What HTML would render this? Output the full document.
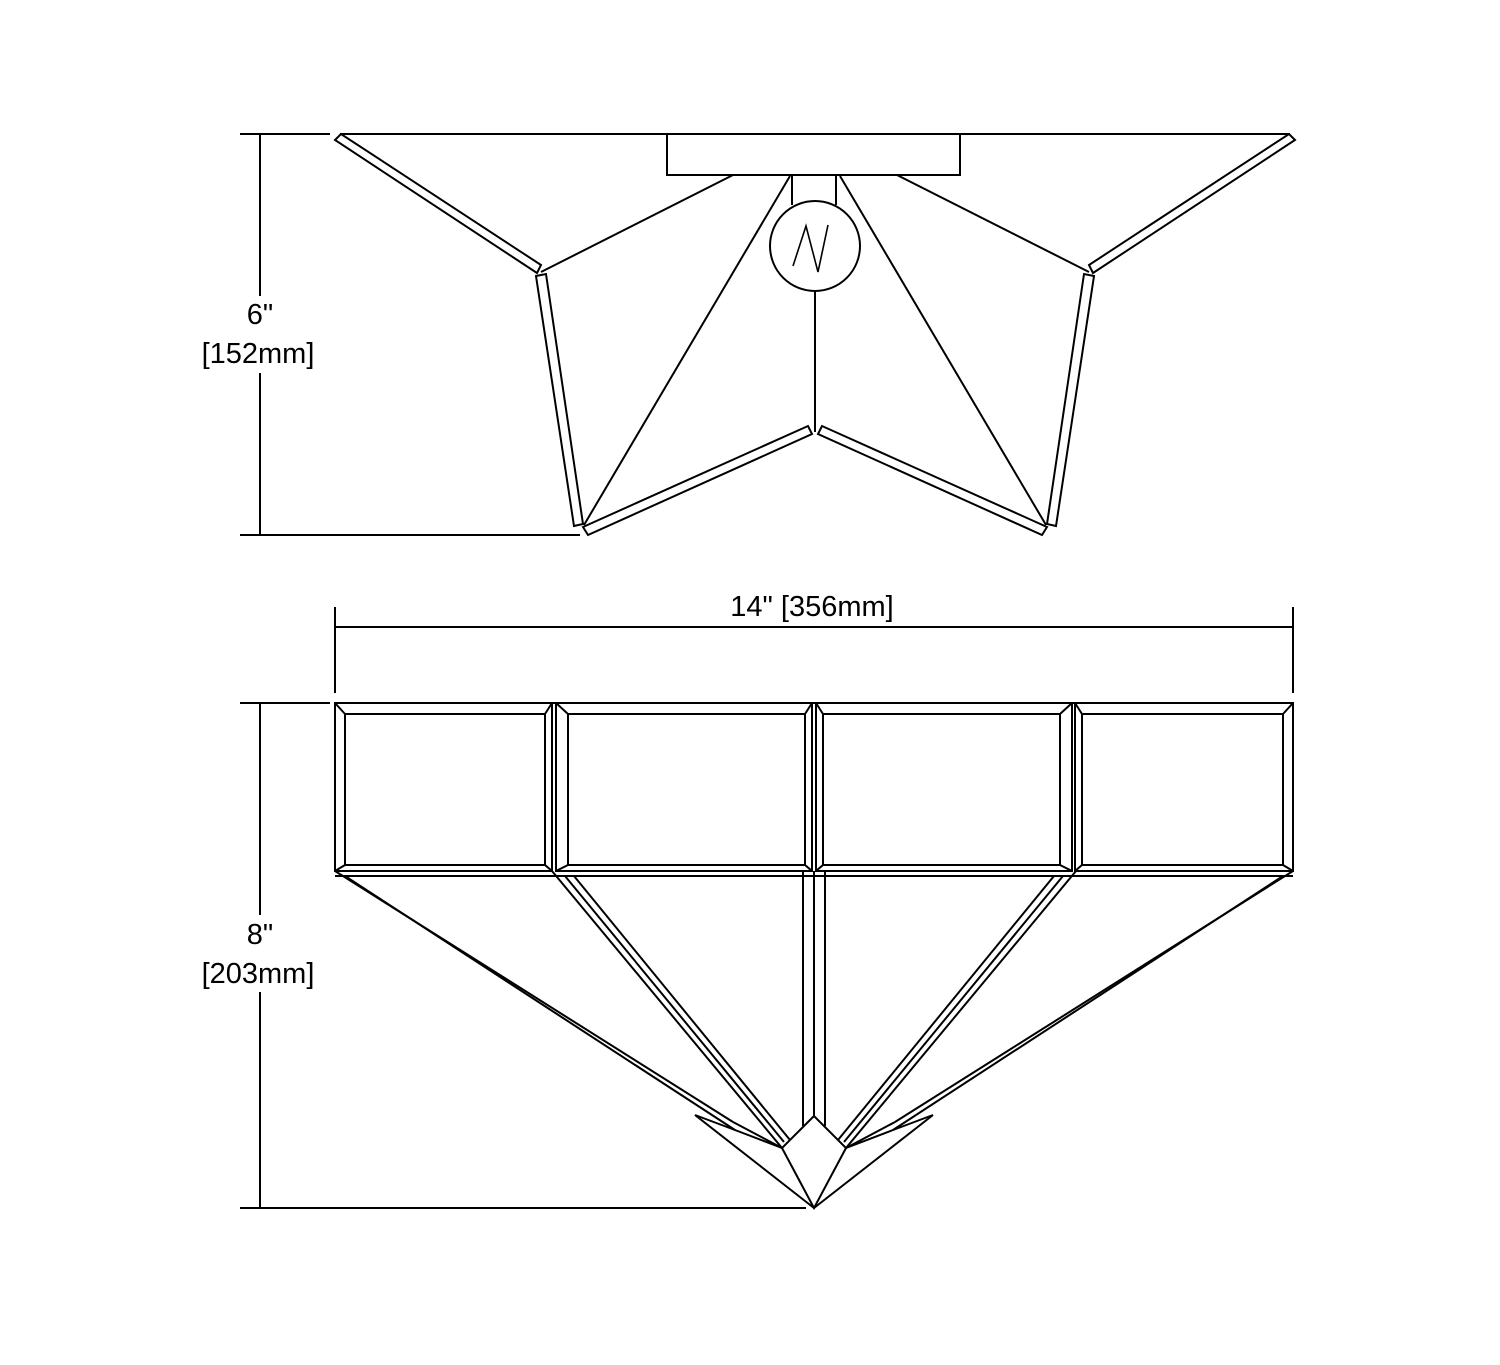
<!DOCTYPE html>
<html><head><style>
html,body{margin:0;padding:0;background:#fff;}
svg{display:block;}
text{font-family:"Liberation Sans",sans-serif;font-size:29px;fill:#000;}
</style></head><body>
<svg width="1500" height="1365" viewBox="0 0 1500 1365" xmlns="http://www.w3.org/2000/svg">
<g fill="none" stroke="#000" stroke-width="2" stroke-linejoin="miter">
<!-- TOP VIEW -->
<line x1="240" y1="134" x2="330" y2="134"/>
<line x1="240" y1="535" x2="580" y2="535"/>
<line x1="260" y1="134" x2="260" y2="296"/>
<line x1="260" y1="373" x2="260" y2="535"/>
<line x1="340" y1="134" x2="1290" y2="134"/>
<rect x="667" y="134" width="293" height="41" fill="#fff"/>
<polygon points="335,140 341,134 541,265 537,273"/>
<polygon points="536,276 546,274 583,524 574,526"/>
<polygon points="583,527 808,426 812,434 588,535"/>
<line x1="541" y1="272" x2="733" y2="175"/>
<line x1="584" y1="525" x2="790" y2="176"/>
<polygon points="1295,140 1289,134 1089,265 1093,273"/>
<polygon points="1094,276 1084,274 1047,524 1056,526"/>
<polygon points="1047,527 822,426 818,434 1042,535"/>
<line x1="1089" y1="272" x2="897" y2="175"/>
<line x1="1046" y1="525" x2="840" y2="176"/>
<line x1="792" y1="175" x2="792" y2="205"/>
<line x1="836" y1="175" x2="836" y2="205"/>
<circle cx="815" cy="246" r="45" fill="#fff"/>
<polyline points="793,266 806,226 818,272 828,225" stroke-width="1.6"/>
<line x1="815" y1="291" x2="815" y2="432"/>

<!-- BOTTOM VIEW -->
<line x1="335" y1="607" x2="335" y2="693"/>
<line x1="1293" y1="607" x2="1293" y2="693"/>
<line x1="335" y1="627" x2="1293" y2="627"/>
<line x1="240" y1="703" x2="330" y2="703"/>
<line x1="240" y1="1208" x2="806" y2="1208"/>
<line x1="260" y1="703" x2="260" y2="915"/>
<line x1="260" y1="992" x2="260" y2="1208"/>

<line x1="335" y1="703" x2="1293" y2="703"/>
<line x1="335" y1="876" x2="1293" y2="876"/>
<g>
<rect x="335" y="703" width="217" height="168"/>
<rect x="345" y="714" width="200" height="151"/>
<path d="M335,703 L345,714 M552,703 L545,714 M335,871 L345,865 M552,871 L545,865"/>
<rect x="556" y="703" width="256" height="168"/>
<rect x="568" y="714" width="237" height="151"/>
<path d="M556,703 L568,714 M812,703 L805,714 M556,871 L568,865 M812,871 L805,865"/>
<rect x="816" y="703" width="256" height="168"/>
<rect x="823" y="714" width="237" height="151"/>
<path d="M816,703 L823,714 M1072,703 L1060,714 M816,871 L823,865 M1072,871 L1060,865"/>
<rect x="1075" y="703" width="218" height="168"/>
<rect x="1082" y="714" width="201" height="151"/>
<path d="M1075,703 L1082,714 M1293,703 L1283,714 M1075,871 L1082,865 M1293,871 L1283,865"/>
</g>
<line x1="335" y1="871" x2="733" y2="1122"/>
<line x1="345" y1="876" x2="735" y2="1130"/>
<polyline points="733,1122 782,1148"/>
<polyline points="695,1115 735,1130 782,1148"/>
<line x1="695" y1="1115" x2="814" y2="1208"/>
<line x1="1293" y1="871" x2="895" y2="1122"/>
<line x1="1283" y1="876" x2="893" y2="1130"/>
<polyline points="895,1122 846,1148"/>
<polyline points="933,1115 893,1130 846,1148"/>
<line x1="933" y1="1115" x2="814" y2="1208"/>
<line x1="552" y1="871" x2="782" y2="1148"/>
<line x1="565" y1="876" x2="784" y2="1142"/>
<line x1="574" y1="876" x2="790" y2="1140"/>
<line x1="1076" y1="871" x2="846" y2="1148"/>
<line x1="1063" y1="876" x2="844" y2="1142"/>
<line x1="1054" y1="876" x2="838" y2="1140"/>
<line x1="803" y1="871" x2="803" y2="1126"/>
<line x1="814" y1="871" x2="814" y2="1116"/>
<line x1="825" y1="871" x2="825" y2="1126"/>
<polygon points="814,1116 782,1148 814,1208 846,1148" fill="#fff"/>
</g>
<text x="260" y="324" text-anchor="middle">6"</text>
<text x="258" y="363" text-anchor="middle">[152mm]</text>
<text x="260" y="944" text-anchor="middle">8"</text>
<text x="258" y="983" text-anchor="middle">[203mm]</text>
<text x="812" y="616" text-anchor="middle">14" [356mm]</text>
</svg>
</body></html>
